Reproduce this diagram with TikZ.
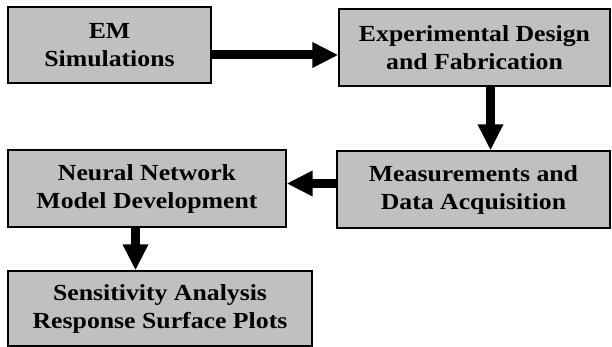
\documentclass[tikz,border=0pt]{standalone}
\usepackage{fontspec}
\setmainfont{Liberation Serif}
\newfontfamily\boxfont[FakeStretch=1.12]{Liberation Serif}
\usetikzlibrary{arrows.meta,calc}
\begin{document}
\begin{tikzpicture}[x=1pt,y=-1pt,
  boxst/.style={draw=black,line width=1.3pt,fill={rgb,255:red,192;green,192;blue,192},
    inner sep=0pt,align=center,font=\boxfont\fontsize{23}{28}\selectfont\bfseries},
  arr/.style={line width=9pt,-{Triangle[width=24pt,length=26pt]}}]
\useasboundingbox (0,0) rectangle (612,347);
\node[boxst,minimum width=203pt,minimum height=76pt] (b1) at (109.5,45) {EM\\Simulations};
\node[boxst,minimum width=271pt,minimum height=77pt] (b2) at (474.5,47.5) {Experimental Design\\and Fabrication};
\node[boxst,minimum width=273pt,minimum height=77pt] (b3) at (473.5,189.5) {Measurements and\\Data Acquisition};
\node[boxst,minimum width=278pt,minimum height=77pt] (b4) at (147,188.5) {Neural Network\\Model Development};
\node[boxst,minimum width=304pt,minimum height=75pt] (b5) at (160,308.5) {Sensitivity Analysis\\Response Surface Plots};
\draw[arr] ([yshift=-10pt]b1.east) -- ([yshift=-10pt]b1.east -| b2.west);
\draw[arr] ([xshift=16pt]b2.south) -- ([xshift=16pt]b2.south |- b3.north);
\draw[arr] ([yshift=6pt]b3.west) -- ([yshift=6pt]b3.west -| b4.east);
\draw[arr] ([xshift=-11.5pt]b4.south) -- ([xshift=-11.5pt]b4.south |- b5.north);
\end{tikzpicture}
\end{document}
